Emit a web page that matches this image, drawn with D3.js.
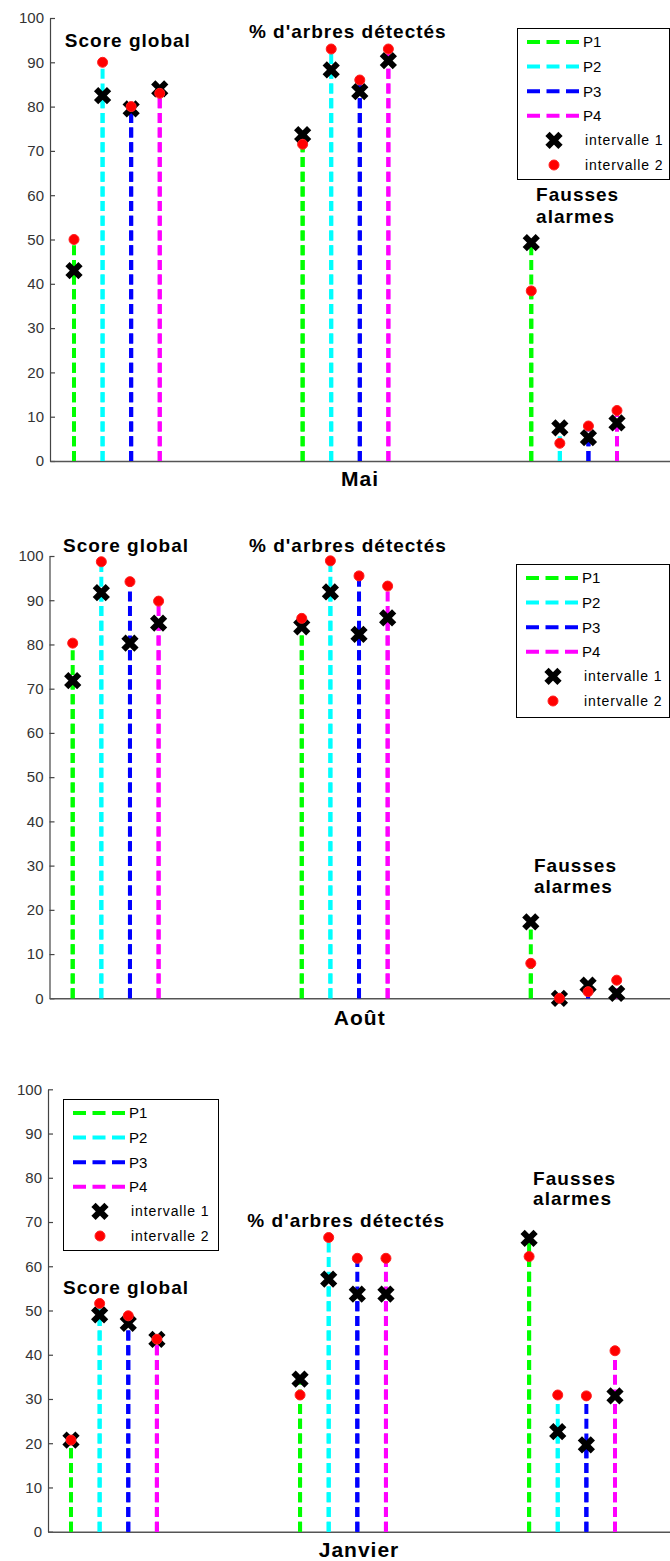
<!DOCTYPE html>
<html><head><meta charset="utf-8">
<script src="https://cdn.jsdelivr.net/npm/d3@7"></script>
<style>body{margin:0;background:#fff}</style>
</head><body><svg id="c" width="670" height="1561"></svg>
<script>
const categories = ["Score global", "% d'arbres détectés", "Fausses alarmes"];
const seriesNames = ["P1", "P2", "P3", "P4"];
const intervalNames = ["intervalle 1", "intervalle 2"];
const months = ["Mai", "Août", "Janvier"];
const yTicks = [0, 10, 20, 30, 40, 50, 60, 70, 80, 90, 100];
const colors = ["#00ff00", "#00ffff", "#0000ff", "#ff00ff"];

// values per category (rows) and series P1..P4 (columns)
const mai_i1 = [[43, 82.5, 79.5, 84], [73.7, 88.3, 83.4, 90.4], [49.3, 7.5, 5.3, 8.6]];
const mai_i2 = [[50, 90, 80, 83], [71.5, 93, 86, 93], [38.4, 4, 7.9, 11.4]];
const aout_i1 = [[71.8, 91.7, 80.3, 84.8], [84, 91.9, 82.3, 86], [17.3, 0, 3, 1.1]];
const aout_i2 = [[80.3, 98.7, 94.2, 89.8], [85.9, 98.9, 95.5, 93.2], [7.9, 0, 1.5, 4.1]];
const janv_i1 = [[20.7, 49, 47.1, 43.5], [34.5, 57.1, 53.7, 53.7], [66.3, 22.6, 19.6, 30.7]];
const janv_i2 = [[20.7, 51.6, 48.8, 43.5], [30.9, 66.5, 61.8, 61.8], [62.2, 30.9, 30.7, 40.9]];

const panels = [
  {month: months[0], i1: mai_i1, i2: mai_i2, left: 50, y0: 461, y100: 18, x1: 74, x20: 617, monthY: 479,
   legend: {x: 517, y: 28, w: 152, h: 151},
   labels: [[0.68, 94.9], [7.12, 97.0], [17.17, 60.3, 55.3]]},
  {month: months[1], i1: aout_i1, i2: aout_i2, left: 49.5, y0: 998.3, y100: 556, x1: 72.7, x20: 616.7, monthY: 1018,
   legend: {x: 516, y: 564, w: 153, h: 153},
   labels: [[0.66, 102.3], [7.16, 102.5], [17.11, 30.1, 25.2]]},
  {month: months[2], i1: janv_i1, i2: janv_i2, left: 48, y0: 1531.7, y100: 1089.3, x1: 71, x20: 615, monthY: 1550,
   legend: {x: 63, y: 1099, w: 155, h: 151},
   labels: [[0.72, 55.2], [7.16, 70.3], [17.14, 79.9, 75.4]]}
];

const svg = d3.select("#c");
const FONT = "'Liberation Sans', Arial, Helvetica, sans-serif";
const xPath = "M-6.5,-6.5L6.5,6.5M-6.5,6.5L6.5,-6.5";

panels.forEach(P => {
  const g = svg.append("g");
  const xs0 = d3.scaleLinear().domain([1, 20]).range([P.x1, P.x20]);
  const xs = d3.scaleLinear().domain([xs0.invert(P.left), xs0.invert(670)]).range([P.left, 670]);
  const ys = d3.scaleLinear().domain([0, 100]).range([P.y0, P.y100]);

  // y axis
  const ya = g.append("g").attr("transform", `translate(${P.left},0)`)
    .call(d3.axisLeft(ys).tickValues(yTicks).tickSizeInner(-5).tickSizeOuter(0).tickPadding(6));
  ya.select(".domain").attr("stroke", "#444").attr("stroke-width", 1.2);
  ya.selectAll(".tick line").attr("stroke", "#444").attr("stroke-width", 1.2);
  ya.selectAll(".tick text").attr("font-family", FONT).attr("font-size", 15).attr("fill", "#333");

  // x axis (no ticks)
  const xa = g.append("g").attr("transform", `translate(0,${P.y0})`)
    .call(d3.axisBottom(xs).tickValues([]).tickSizeOuter(0));
  xa.select(".domain").attr("stroke", "#555").attr("stroke-width", 1.6);

  // data
  const pts = [];
  categories.forEach((c, ci) => {
    seriesNames.forEach((s, si) => {
      const pos = ci * 8 + si + 1;
      pts.push({pos, si, v1: P.i1[ci][si], v2: P.i2[ci][si]});
    });
  });

  // stems
  pts.forEach(d => {
    [d.v1, d.v2].forEach(v => {
      g.append("line")
        .attr("x1", xs(d.pos)).attr("x2", xs(d.pos))
        .attr("y1", ys(0)).attr("y2", ys(v))
        .attr("stroke", colors[d.si]).attr("stroke-width", 4)
        .attr("stroke-dasharray", "10,4.7");
    });
  });
  // interval 1 markers
  g.selectAll(".m1").data(pts).join("path").attr("class", "m1")
    .attr("d", xPath)
    .attr("transform", d => `translate(${xs(d.pos)},${ys(d.v1)})`)
    .attr("stroke", "#000").attr("stroke-width", 6).attr("fill", "none");
  // interval 2 markers
  g.selectAll(".m2").data(pts).join("circle").attr("class", "m2")
    .attr("cx", d => xs(d.pos)).attr("cy", d => ys(d.v2)).attr("r", 5)
    .attr("fill", "#ff0000").attr("stroke", "#ff2020").attr("stroke-width", 1);

  // category labels
  const lab = (txt, x, y) => g.append("text")
    .attr("x", xs(x)).attr("y", ys(y)).attr("dy", "0.35em")
    .attr("font-family", FONT).attr("font-weight", "bold").attr("font-size", 19)
    .attr("letter-spacing", 1).attr("fill", "#000").text(txt);
  lab(categories[0], P.labels[0][0], P.labels[0][1]);
  lab(categories[1], P.labels[1][0], P.labels[1][1]);
  const fw = categories[2].split(" ");
  lab(fw[0], P.labels[2][0], P.labels[2][1]);
  lab(fw[1], P.labels[2][0], P.labels[2][2]);

  // month label
  g.append("text").attr("x", (P.left + 670) / 2).attr("y", P.monthY).attr("dy", "0.35em")
    .attr("text-anchor", "middle").attr("font-family", FONT).attr("font-weight", "bold")
    .attr("font-size", 21).attr("letter-spacing", 1).text(P.month);

  // legend
  const L = P.legend;
  const lg = g.append("g").attr("transform", `translate(${L.x},${L.y})`);
  lg.append("rect").attr("x", 0.5).attr("y", 0.5).attr("width", L.w).attr("height", L.h)
    .attr("fill", "#fff").attr("stroke", "#000").attr("stroke-width", 1);
  const rowY = i => 14 + i * 24.6;
  seriesNames.forEach((s, i) => {
    lg.append("line").attr("x1", 10).attr("x2", 62).attr("y1", rowY(i)).attr("y2", rowY(i))
      .attr("stroke", colors[i]).attr("stroke-width", 4).attr("stroke-dasharray", "13,6.5");
    lg.append("text").attr("x", 66).attr("y", rowY(i)).attr("dy", "0.36em")
      .attr("font-family", FONT).attr("font-size", 15).attr("fill", "#000").text(s);
  });
  intervalNames.forEach((s, j) => {
    const i = 4 + j;
    if (j === 0) {
      lg.append("path").attr("d", xPath).attr("transform", `translate(37,${rowY(i)})`)
        .attr("stroke", "#000").attr("stroke-width", 6).attr("fill", "none");
    } else {
      lg.append("circle").attr("cx", 37).attr("cy", rowY(i)).attr("r", 5)
        .attr("fill", "#ff0000").attr("stroke", "#ff2020").attr("stroke-width", 1);
    }
    lg.append("text").attr("x", 68).attr("y", rowY(i)).attr("dy", "0.36em")
      .attr("font-family", FONT).attr("font-size", 14).attr("letter-spacing", 0.9)
      .attr("fill", "#000").text(s);
  });
});
</script></body></html>
